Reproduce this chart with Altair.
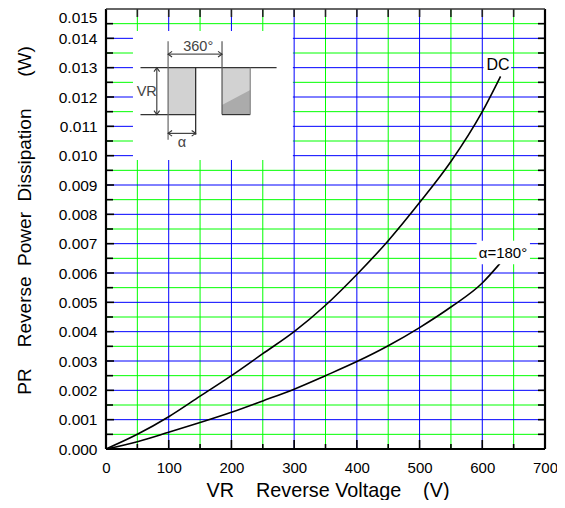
import altair as alt
import pandas as pd

# ---------------- data ----------------
dc_v = [0, 50, 100, 150, 200, 250, 300, 350, 400, 450, 500, 550, 600, 629]
dc_p = [0, 0.0005, 0.0011, 0.0018, 0.0025, 0.00325, 0.0040, 0.0049, 0.00595, 0.0071,
        0.0084, 0.0098, 0.0115, 0.0127]
hw_v = [0, 50, 100, 150, 200, 250, 300, 350, 400, 450, 500, 550, 600, 628]
hw_p = [0, 0.00025, 0.00057, 0.0009, 0.00125, 0.00164, 0.00204, 0.0025, 0.00298,
        0.00352, 0.00414, 0.00484, 0.00566, 0.00632]

x_labels = [0, 100, 200, 300, 400, 500, 600, 700]
y_labels = [round(i * 0.001, 3) for i in range(16)]
x_major = [100, 200, 300, 400, 500, 600]
x_minor = [50, 150, 250, 350, 450, 550, 650]
y_major = [round(i * 0.001, 3) for i in range(1, 15)]
y_minor = [round(i * 0.001 + 0.0005, 4) for i in range(15)]
x_ticks_major = [100, 200, 300, 400, 500, 600]
x_ticks_minor = [50, 150, 250, 350, 450, 550, 650]
y_ticks_major = y_major
y_ticks_minor = y_minor

NB = "\u00a0"
x_title = "VR" + NB * 4 + "Reverse Voltage" + NB * 4 + "(V)"
y_title = "PR" + NB * 4 + "Reverse" + NB * 2 + "Power" + NB * 2 + "Dissipation" + NB * 6 + "(W)"

curve_labels = ["DC", "\u03b1=180\u00b0"]
curve_label_x = [625, 633]
curve_label_y = [0.0131, 0.00668]
curve_label_size = [16, 15]
label_box_x = [602, 591]
label_box_x2 = [646, 676]
label_box_y = [0.01275, 0.0063]
label_box_y2 = [0.01345, 0.0071]

# inset (waveform sketch) in data units
inset_box = dict(x=43, x2=298, y=0.00985, y2=0.01425)
seg_x = [55, 55, 99, 143, 185, 81, 99, 99, 185, 230]
seg_x2 = [272, 143, 99, 143, 185, 81, 185, 143, 230, 230]
seg_y = [0.013, 0.0114, 0.01054, 0.01071, 0.0114, 0.0114, 0.01346, 0.01076, 0.0114, 0.0114]
seg_y2 = [0.013, 0.0114, 0.0139, 0.013, 0.0139, 0.013, 0.01346, 0.01076, 0.0114, 0.013]
seg_c = ["#333333", "#333333", "#666666", "#222222", "#555555", "#444444", "#555555",
         "#444444", "#333333", "#888888"]
pulse_x = [99, 185]
pulse_x2 = [143, 230]
pulse_y = [0.0114, 0.0114]
pulse_y2 = [0.013, 0.013]
dark_x = [185, 230]
dark_y = [0.01173, 0.01224]
dark_y2 = [0.0114, 0.0114]
arrow_x = [81, 81, 99, 185, 99, 143]
arrow_y = [0.013, 0.0114, 0.01346, 0.01346, 0.01076, 0.01076]
arrow_s = ["M-0.7,1L0,0L0.7,1", "M-0.7,-1L0,0L0.7,-1",
           "M1,-0.7L0,0L1,0.7", "M-1,-0.7L0,0L-1,0.7",
           "M1,-0.7L0,0L1,0.7", "M-1,-0.7L0,0L-1,0.7"]
inset_text = ["VR", "360\u00b0", "\u03b1"]
inset_text_x = [65, 147, 121]
inset_text_y = [0.01218, 0.01372, 0.01042]

# ---------------- chart ----------------
W, H = 439, 440
FONT = "Liberation Sans"
xs = alt.Scale(domain=[0, 700], nice=False, zero=False)
ys = alt.Scale(domain=[0, 0.015], nice=False, zero=False)
xaxis = alt.Axis(values=x_labels, format="d", ticks=False, domain=False, grid=False,
                 labelFlush=False,
                 labelFont=FONT, labelFontSize=15, labelColor="black", labelPadding=11,
                 title=x_title, titleFont=FONT, titleFontSize=19.8, titleFontWeight="normal",
                 titleColor="black", titleX=221.5, titleY=47, titleBaseline="alphabetic",
                 titleAlign="center")
yaxis = alt.Axis(values=y_labels, format=".3f", ticks=False, domain=False, grid=False,
                 labelFlush=False,
                 labelBaseline={"condition": {"test": "datum.value > 0.0145", "value": "top"},
                                "value": "middle"},
                 labelOffset={"condition": {"test": "datum.value > 0.0145", "value": 1},
                              "value": 0},
                 labelFont=FONT, labelFontSize=15.5, labelColor="black", labelPadding=9,
                 title=y_title, titleFont=FONT, titleFontSize=19, titleFontWeight="normal",
                 titleColor="black", titleX=-76, titleY=211, titleAngle=-90,
                 titleBaseline="alphabetic", titleAlign="center")


def X(f):
    return alt.X(f"{f}:Q", scale=xs, axis=xaxis)


def Y(f):
    return alt.Y(f"{f}:Q", scale=ys, axis=yaxis)


def vgrid(vals, color):
    df = pd.DataFrame({"x": vals, "y0": 0.0, "y1": 0.015})
    return alt.Chart(df).mark_rule(color=color, strokeWidth=1).encode(
        x=X("x"), y=Y("y0"), y2="y1")


def hgrid(vals, color):
    df = pd.DataFrame({"y": vals, "x0": 0.0, "x1": 700.0})
    return alt.Chart(df).mark_rule(color=color, strokeWidth=1).encode(
        y=Y("y"), x=X("x0"), x2="x1")


layers = [
    vgrid(x_minor, "#00ff00"), hgrid(y_minor, "#00ff00"),
    vgrid(x_major, "#0000ff"), hgrid(y_major, "#0000ff"),
]

# inset white box
layers.append(alt.Chart(pd.DataFrame([inset_box])).mark_rect(color="white").encode(
    x=X("x"), x2="x2", y=Y("y"), y2="y2"))
# pulses
layers.append(alt.Chart(pd.DataFrame({"x": pulse_x, "x2": pulse_x2, "y": pulse_y, "y2": pulse_y2}))
              .mark_rect(color="#d2d2d2").encode(x=X("x"), x2="x2", y=Y("y"), y2="y2"))
layers.append(alt.Chart(pd.DataFrame({"x": dark_x, "y": dark_y, "y2": dark_y2}))
              .mark_area(color="#ababab").encode(x=X("x"), y=Y("y"), y2="y2"))
layers.append(alt.Chart(pd.DataFrame({"x": seg_x, "x2": seg_x2, "y": seg_y, "y2": seg_y2, "c": seg_c}))
              .mark_rule(strokeWidth=1.2).encode(x=X("x"), x2="x2", y=Y("y"), y2="y2",
                                                  color=alt.Color("c:N", scale=None)))
layers.append(alt.Chart(pd.DataFrame({"x": arrow_x, "y": arrow_y, "s": arrow_s}))
              .mark_point(filled=False, size=64, color="#333333", strokeWidth=1.1, opacity=1)
              .encode(x=X("x"), y=Y("y"), shape=alt.Shape("s:N", scale=None)))
layers.append(alt.Chart(pd.DataFrame({"x": inset_text_x, "y": inset_text_y, "t": inset_text}))
              .mark_text(font=FONT, fontSize=14.5, color="#444444", align="center", baseline="middle")
              .encode(x=X("x"), y=Y("y"), text="t:N"))

# curves
curves = pd.concat([
    pd.DataFrame({"v": dc_v, "p": dc_p, "s": "DC"}),
    pd.DataFrame({"v": hw_v, "p": hw_p, "s": "180"}),
])
layers.append(alt.Chart(curves).mark_line(color="black", strokeWidth=1.6, interpolate="monotone")
              .encode(x=X("v"), y=Y("p"), detail="s:N"))

# curve labels with white background
layers.append(alt.Chart(pd.DataFrame({"x": label_box_x, "x2": label_box_x2,
                                      "y": label_box_y, "y2": label_box_y2}))
              .mark_rect(color="white").encode(x=X("x"), x2="x2", y=Y("y"), y2="y2"))
layers.append(alt.Chart(pd.DataFrame({"x": curve_label_x, "y": curve_label_y,
                                      "t": curve_labels, "fs": curve_label_size}))
              .mark_text(font=FONT, color="black", align="center", baseline="middle")
              .encode(x=X("x"), y=Y("y"), text="t:N", size=alt.Size("fs:Q", scale=None)))


# inward ticks
def bottom_ticks(vals, ln):
    return alt.Chart(pd.DataFrame({"x": vals})).mark_rule(color="black", strokeWidth=1.6).encode(
        x=X("x"), y=alt.value(H), y2=alt.value(H - ln))


def top_ticks(vals, ln):
    return alt.Chart(pd.DataFrame({"x": vals})).mark_rule(color="#222222", strokeWidth=1.6).encode(
        x=X("x"), y=alt.value(0), y2=alt.value(ln))


def left_ticks(vals, ln):
    return alt.Chart(pd.DataFrame({"y": vals})).mark_rule(color="black", strokeWidth=1.6).encode(
        y=Y("y"), x=alt.value(0), x2=alt.value(ln))


def right_ticks(vals, ln):
    return alt.Chart(pd.DataFrame({"y": vals})).mark_rule(color="black", strokeWidth=1.6).encode(
        y=Y("y"), x=alt.value(W), x2=alt.value(W - ln))


layers += [bottom_ticks(x_ticks_major, 9), bottom_ticks(x_ticks_minor, 5),
           top_ticks(x_ticks_major, 8), top_ticks(x_ticks_minor, 8),
           left_ticks(y_ticks_major, 8), left_ticks(y_ticks_minor, 7),
           right_ticks(y_ticks_major, 7), right_ticks(y_ticks_minor, 7)]

# frame
frame_src = pd.DataFrame({"k": [0]})
layers += [
    alt.Chart(frame_src).mark_rule(color="black", strokeWidth=2.2).encode(
        x=alt.value(0), y=alt.value(0), y2=alt.value(H)),
    alt.Chart(frame_src).mark_rule(color="black", strokeWidth=2.2).encode(
        x=alt.value(W), y=alt.value(0), y2=alt.value(H)),
    alt.Chart(frame_src).mark_rule(color="black", strokeWidth=2.2).encode(
        y=alt.value(H), x=alt.value(0), x2=alt.value(W)),
    alt.Chart(frame_src).mark_rule(color="#333333", strokeWidth=1.5).encode(
        y=alt.value(0), x=alt.value(0), x2=alt.value(W)),
]

chart = alt.layer(*layers).properties(
    width=W, height=H,
    autosize=alt.AutoSizeParams(type="none"),
    padding={"left": 98, "top": 1, "right": 12, "bottom": 51},
    background="white",
).configure_view(stroke=None)

chart.save("out.html", embed_options={"renderer": "svg", "actions": False})
